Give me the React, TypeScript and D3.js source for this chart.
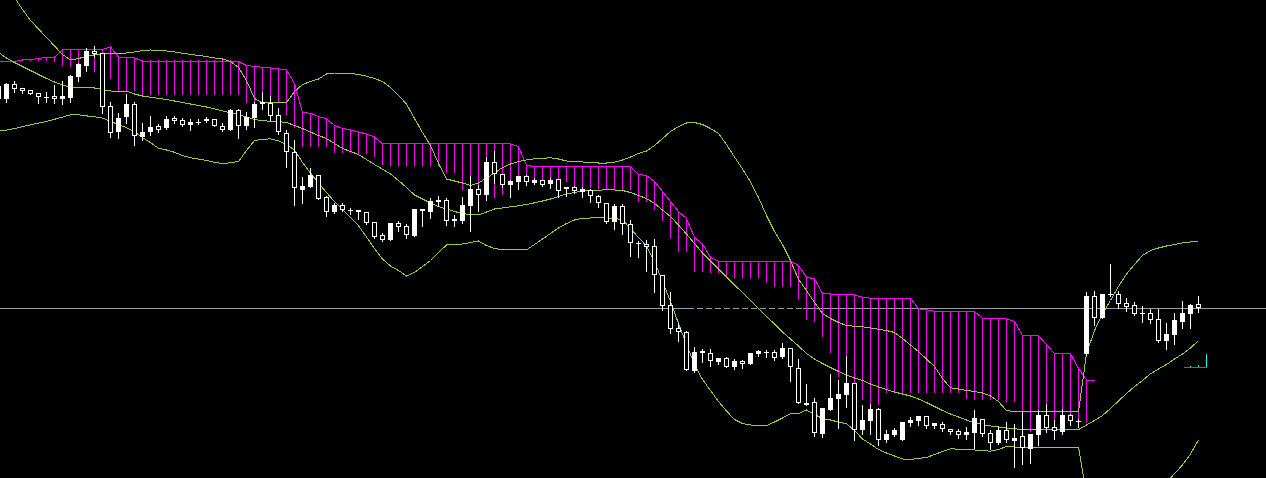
import React, { useEffect, useRef } from "react";
import * as d3 from "d3";

const W = 1266;
const H = 478;

// Price units: arbitrary points (higher = up). Bars are consecutive sessions, index 0..150.
const openPrices = [
  401, 401, 416, 412, 410, 407, 403, 404, 401, 402,
  423, 434, 449, 447, 394, 368, 383, 396, 363, 368,
  374, 372, 382, 380, 375, 378, 379, 381, 374, 370,
  390, 374, 382, 396, 397, 385, 367, 348, 310, 313,
  325, 303, 288, 295, 290, 288, 288, 278, 265, 260,
  277, 274, 264, 289, 288, 298, 300, 279, 279, 294,
  311, 305, 338, 326, 315, 318, 324, 317, 320, 316,
  321, 311, 313, 308, 310, 304, 297, 278, 294, 276,
  257, 256, 254, 225, 195, 172, 168, 129, 147, 147,
  138, 142, 133, 139, 136, 146, 148, 148, 143, 152,
  132, 95, 98, 66, 90, 101, 105, 117, 70, 79,
  91, 60, 65, 60, 77, 79, 84, 74, 76, 71,
  69, 65, 67, 81, 67, 57, 70, 59, 64, 51,
  65, 85, 73, 68, 85, 79, 146, 204, 182, 206,
  206, 197, 195, 187, 187, 181, 159, 165, 178, 186,
  196,
];
const highPrices = [
  416, 417, 419, 412, 410, 407, 408, 415, 419, 425,
  437, 452, 454, 447, 398, 387, 406, 398, 377, 384,
  376, 384, 384, 382, 381, 381, 383, 381, 377, 391,
  391, 388, 398, 408, 404, 392, 370, 360, 323, 332,
  325, 304, 297, 297, 292, 290, 288, 278, 267, 277,
  279, 276, 291, 291, 302, 304, 302, 285, 303, 324,
  315, 343, 349, 326, 320, 324, 325, 322, 320, 322,
  321, 313, 314, 313, 311, 305, 297, 296, 296, 280,
  259, 260, 261, 225, 208, 177, 169, 153, 151, 151,
  142, 143, 141, 140, 147, 150, 150, 150, 157, 152,
  141, 116, 102, 92, 126, 120, 144, 117, 95, 96,
  92, 70, 72, 78, 83, 84, 84, 77, 78, 71,
  71, 73, 90, 81, 70, 74, 78, 76, 88, 66,
  90, 96, 80, 91, 86, 81, 208, 209, 206, 236,
  209, 202, 198, 194, 191, 191, 177, 187, 199, 196,
  204,
];
const lowPrices = [
  398, 398, 408, 407, 406, 397, 398, 397, 396, 398,
  419, 429, 443, 387, 363, 362, 377, 355, 360, 365,
  368, 371, 377, 374, 370, 376, 378, 374, 369, 370,
  362, 371, 373, 391, 380, 366, 333, 295, 297, 313,
  301, 284, 287, 289, 286, 281, 276, 262, 259, 260,
  269, 262, 264, 274, 282, 294, 275, 274, 277, 269,
  289, 300, 317, 313, 303, 311, 315, 316, 314, 312,
  303, 304, 307, 303, 298, 293, 277, 271, 266, 244,
  243, 229, 208, 190, 167, 159, 130, 128, 138, 134,
  136, 133, 131, 132, 136, 144, 143, 140, 142, 119,
  97, 95, 64, 63, 90, 72, 93, 60, 66, 66,
  55, 58, 64, 60, 74, 75, 72, 72, 69, 66,
  62, 61, 52, 64, 51, 56, 58, 33, 36, 37,
  55, 68, 61, 66, 75, 73, 145, 175, 182, 204,
  192, 189, 185, 178, 177, 158, 151, 156, 172, 172,
  188,
];
const closePrices = [
  414, 416, 411, 409, 406, 403, 403, 401, 404, 424,
  436, 449, 446, 393, 367, 382, 396, 364, 368, 373,
  370, 381, 379, 375, 378, 378, 381, 374, 370, 390,
  374, 383, 396, 398, 384, 368, 348, 312, 314, 325,
  301, 288, 295, 290, 290, 290, 277, 263, 260, 277,
  273, 265, 291, 291, 299, 300, 279, 281, 295, 311,
  305, 338, 326, 315, 319, 324, 318, 320, 315, 320,
  309, 313, 309, 311, 304, 297, 278, 294, 276, 257,
  257, 253, 225, 194, 171, 168, 130, 148, 149, 139,
  142, 133, 139, 136, 147, 149, 148, 142, 152, 133,
  97, 97, 67, 92, 102, 106, 117, 70, 80, 91,
  60, 66, 70, 78, 80, 84, 74, 77, 71, 68,
  65, 68, 82, 66, 57, 70, 60, 62, 52, 66,
  85, 72, 69, 85, 79, 79, 204, 182, 206, 206,
  196, 193, 186, 187, 180, 159, 166, 180, 187, 195,
  192,
];

// Bollinger bands
const bbUpper = [
  528, 516, 503, 491, 480, 471.5, 463, 454.5, 446, 440.5,
  442, 444, 445.7, 446.7, 446.7, 446.7, 447.5, 448.5, 450, 450.5,
  450.2, 449.5, 448.5, 447.3, 446.2, 445, 444, 442.5, 441.5, 439,
  433, 420, 402, 397.7, 397.7, 397.7, 397.7, 409, 416, 419,
  421.5, 426.5, 427.5, 427.5, 427, 426, 424.3, 422, 419, 413,
  405, 396.5, 382, 368, 355, 337, 321.5, 319.5, 317.5, 315,
  317.5, 322.5, 327.5, 333, 336.5, 339, 340.5, 341.7, 342.2, 342.7,
  341.5, 339.5, 339, 338.5, 338, 337.5, 337.5, 338.3, 340.5, 343.5,
  347, 349.5, 355, 362, 369, 374, 377.5, 378, 376, 372,
  367, 356, 343.5, 331.5, 318.5, 303, 285, 269, 256, 240,
  221, 210, 198, 187, 182, 178, 175, 174.3, 173.7, 172.5,
  171.3, 170, 168, 162, 155.5, 149, 141.5, 134, 122, 112.7,
  111.5, 110, 109, 107.5, 104.5, 99, 90, 88.7, 88.7, 88.7,
  88.7, 88.7, 88.7, 88.7, 88.7, 88.7, 147, 170, 187, 200,
  214, 226.5, 236, 245, 250, 252.5, 254.5, 256, 257.5, 258.5,
  259.5,
];
const bbMiddle = [
  448, 442.5, 438, 434, 430, 426, 422, 418.5, 415.7, 412.7,
  412.7, 412.7, 412.5, 411, 409.5, 409.3, 409.3, 406.5, 404.5, 403.3,
  402.2, 401, 399.5, 398, 396.5, 395, 393.5, 391.7, 389.7, 387.5,
  386, 383.5, 381, 379.7, 379.3, 378.8, 378, 375, 372, 368.3,
  365, 362, 357, 352, 349, 346, 341, 336, 331.3, 326.5,
  320, 313, 305.5, 301.5, 297.5, 294, 291.5, 289, 287, 285.7,
  285.7, 288.5, 291.5, 292.5, 293.7, 294.7, 296, 297.7, 299.5, 301.5,
  304, 306.5, 308, 309.5, 310, 310.3, 310.7, 310.5, 310, 308,
  305, 302, 297, 290.5, 284, 275.5, 266.5, 257, 247.5, 239.5,
  231.5, 223.5, 215.5, 208, 200, 192, 184, 176.5, 168.5, 161.5,
  154.5, 147, 141.5, 137, 133, 129, 125.5, 122.5, 120, 116.5,
  113.5, 111, 108.5, 106.5, 104.5, 101.5, 98, 94, 90, 86.5,
  83.5, 80.5, 77.5, 76, 74.5, 73.5, 72.5, 71.7, 71, 71,
  71, 71, 71, 71, 71, 71, 75.5, 80, 85, 92,
  99.5, 107, 114, 120, 126.7, 131.5, 136, 141.5, 146.5, 152.5,
  160,
];
const bbLower = [
  370, 370.4, 372, 373.8, 375.7, 377.4, 379, 381.2, 383.4, 385.7,
  385.7, 384.6, 383.7, 382.4, 379.2, 375.7, 372.8, 368.5, 363, 357.8,
  352.3, 350.5, 348.2, 345, 342.7, 341.4, 340, 338.2, 336.9, 337.8,
  339, 350, 360, 361, 361.7, 359.7, 356, 350.5, 338, 327.5,
  317.5, 308, 299, 291, 283, 274.7, 263.5, 252, 241.5, 234.5,
  230, 224.5, 228, 234, 240, 248, 255.5, 256, 256.5, 258,
  259.5, 255, 252, 250.7, 250.7, 250.7, 250.7, 256, 261.5, 267,
  272.5, 277, 280.5, 282.3, 282.5, 282.7, 282.7, 282, 280.7, 272,
  263, 254.5, 239, 219, 199, 177, 156, 136, 121, 110,
  99, 89.5, 81, 77, 75.5, 75, 75, 78.5, 82.5, 86.7,
  86.7, 90.5, 86, 82, 80.5, 78.5, 76.7, 70, 61.5, 56.5,
  51, 47.5, 44.5, 41.5, 41, 42, 43, 46, 49, 51.7,
  51.3, 51, 50.5, 50, 49.3, 51, 54, 53.5, 53.5, 53.5,
  53.5, 53.5, 53.5, 53.5, 53.5, 53.5, 5, -10, -17, -16,
  -15, -12.5, -8, -5, 3.4, 10.5, 17.5, 27, 35.5, 46.5,
  60.5,
];

// Ichimoku cloud (shifted forward): edge line and opposite span
const cloudEdge = [
  438.7, 438.7, 439, 440.5, 440.7, 442, 443, 443.3, 450.7, 450.7,
  450.7, 450.7, 450.7, 451, 453.7, 443.3, 442.7, 442.7, 439.5, 439.5,
  439.5, 439.5, 439.5, 439.5, 439.5, 439.5, 439.5, 439.5, 439.5, 439.5,
  439, 435, 434, 433.3, 432.5, 431.5, 430.7, 417, 388, 387.3,
  384, 381.7, 375, 372, 370.7, 368.5, 366.5, 363.5, 356.7, 356.7,
  356.7, 356.7, 356.7, 356.7, 356.7, 356.7, 356.7, 356.7, 356.7, 356.7,
  356.7, 356.7, 356.7, 356.7, 356.7, 354, 335, 334, 334, 334,
  334, 334, 334, 334, 334, 334, 334, 334, 334, 334,
  326, 325, 319, 309, 299, 289, 282, 263, 256.5, 243.3,
  239.3, 239.3, 239.3, 239.3, 239.3, 239.3, 239.3, 239.3, 239.3, 239.3,
  235, 223.3, 221.7, 207, 206.5, 206.5, 206, 205.5, 203.3, 202.3,
  202.3, 202.3, 202.3, 202.3, 202.3, 191.7, 190.7, 189.3, 189.3, 189.3,
  189.3, 189.3, 189, 182.3, 182, 181.7, 181.5, 179, 165, 165,
  165, 156, 146.7, 146.7, 146.7, 132, 120.5, 120.5,
];
const cloudOther = [
  438, 438, 438, 439, 439, 439, 438.5, 438.3, 434.3, 433.3,
  433.3, 429.3, 428, 425, 421, 409, 409, 409, 405, 405,
  405, 405, 405, 405, 405, 405, 405, 405, 405, 405,
  405, 396.7, 396.7, 396.7, 396.7, 396.7, 385, 372, 353.3, 353.3,
  352.7, 352.7, 347.3, 346.7, 346.7, 345.7, 345.7, 343.3, 335, 334.3,
  334.3, 334.3, 334.3, 334.3, 334.3, 334.3, 326.7, 326.7, 310, 310,
  310, 300, 302, 305, 310, 311.7, 325, 320, 320, 320,
  320, 318.3, 313.3, 308.3, 312, 311, 310, 310, 310, 310,
  298.3, 298.3, 290, 279, 261.7, 248.3, 248.3, 228.3, 228.3, 226.7,
  226.7, 221.7, 221.7, 221.7, 221.7, 221.7, 217.3, 213.3, 213.3, 213.3,
  200, 180, 178.3, 163.3, 146.7, 123.3, 117, 117, 100, 95,
  95, 106.7, 106.7, 106.7, 106.7, 106.7, 106.7, 106.7, 106.7, 106.7,
  106.7, 100.7, 100, 100, 100, 100, 98.3, 98.3, 70, 68.3,
  70, 68, 71.7, 70, 75, 75, 76.7, 120.5,
];

// Current price line and its dashed stretch (bar index range)
const priceLevel = 192.5;
const dashedRange = [86.2, 100.6];

// Small indicator marker at the last bars
const markerBase = 133.5;
const markerBars = [149, 150, 151];
const markerValues = [134.5, 135.5, 146];
const markerStart = 148.2;

const GREEN = "#9acd32";
const MAGENTA = "#ff00ff";
const GRAY = "#9a9aa2";
const CYAN = "#00ffff";

export default function App() {
  const ref = useRef<SVGSVGElement | null>(null);

  useEffect(() => {
    document.body.style.margin = "0";
    document.body.style.background = "#000";
    const svg = d3.select(ref.current);
    svg.selectAll("*").remove();

    const x = d3.scaleLinear().domain([0, 150]).range([-1.5, 1198.5]);
    const y = d3.scaleLinear().domain([22, 500]).range([H, 0]);
    const ry = (v: number) => Math.round(y(v));

    svg.append("rect").attr("width", W).attr("height", H).attr("fill", "#000");

    const g = svg.append("g").attr("shape-rendering", "crispEdges");

    // price line
    const py = ry(priceLevel) + 0.5;
    g.append("line").attr("x1", 0).attr("x2", x(dashedRange[0])).attr("y1", py).attr("y2", py)
      .attr("stroke", GRAY).attr("stroke-width", 1);
    g.append("line").attr("x1", x(dashedRange[0])).attr("x2", x(dashedRange[1])).attr("y1", py).attr("y2", py)
      .attr("stroke", GRAY).attr("stroke-width", 1).attr("stroke-dasharray", "6,3");
    g.append("line").attr("x1", x(dashedRange[1])).attr("x2", W).attr("y1", py).attr("y2", py)
      .attr("stroke", GRAY).attr("stroke-width", 1);

    // cloud hatch
    cloudEdge.forEach((t, i) => {
      const b = cloudOther[i];
      const y1 = ry(Math.max(t, b));
      const y2 = ry(Math.min(t, b));
      g.append("rect").attr("x", x(i) - 0.5).attr("y", y1).attr("width", 1)
        .attr("height", Math.max(1, y2 - y1)).attr("fill", MAGENTA);
    });
    const edgeLine = d3.line<number>().x((_, i) => x(i)).y((d) => y(d) + 0.5);
    g.append("path").attr("d", edgeLine(cloudEdge)).attr("fill", "none")
      .attr("stroke", MAGENTA).attr("stroke-width", 1);

    // Bollinger bands
    const bandLine = d3.line<number>().x((_, i) => x(i)).y((d) => y(d) + 0.5);
    [bbUpper, bbMiddle, bbLower].forEach((arr) => {
      g.append("path").attr("d", bandLine(arr)).attr("fill", "none")
        .attr("stroke", GREEN).attr("stroke-width", 1);
    });

    // candles
    openPrices.forEach((o, i) => {
      const c = closePrices[i];
      const h = highPrices[i];
      const l = lowPrices[i];
      const cx = x(i);
      const yH = ry(h);
      const yL = ry(l);
      const yO = ry(o);
      const yC = ry(c);
      const top = Math.min(yO, yC);
      const bot = Math.max(yO, yC);
      g.append("rect").attr("x", cx - 0.5).attr("y", yH).attr("width", 1)
        .attr("height", Math.max(1, yL - yH + 1)).attr("fill", "#fff");
      if (c > o || bot - top < 2) {
        g.append("rect").attr("x", cx - 2.5).attr("y", top).attr("width", 5)
          .attr("height", Math.max(1, bot - top)).attr("fill", "#fff");
      } else {
        g.append("rect").attr("x", cx - 2).attr("y", top + 0.5).attr("width", 4)
          .attr("height", bot - top - 1).attr("fill", "#000")
          .attr("stroke", "#fff").attr("stroke-width", 1);
      }
    });

    // marker
    const my = ry(markerBase) + 0.5;
    g.append("line").attr("x1", x(markerStart)).attr("x2", x(markerBars[markerBars.length - 1]) + 0.5)
      .attr("y1", my).attr("y2", my).attr("stroke", MAGENTA).attr("stroke-width", 1);
    markerBars.forEach((b, j) => {
      const top = ry(markerValues[j]);
      g.append("rect").attr("x", x(b) - 0.5).attr("y", top).attr("width", 1)
        .attr("height", Math.max(1, ry(markerBase) - top)).attr("fill", CYAN);
    });
  }, []);

  return (
    <svg
      ref={ref}
      width={W}
      height={H}
      style={{ position: "fixed", left: 0, top: 0, display: "block", background: "#000" }}
    />
  );
}
